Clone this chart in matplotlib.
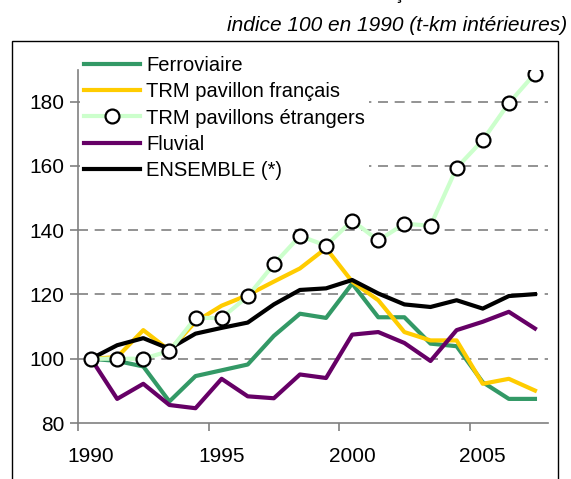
import numpy as np
import matplotlib
matplotlib.use("Agg")
import matplotlib.pyplot as plt
from matplotlib.patches import Rectangle

plt.rcParams['font.family'] = ['Liberation Sans', 'DejaVu Sans']

# indice 100 en 1990
years = list(range(1990, 2008))
ferroviaire = [100, 99.3, 97.6, 86.7, 94.6, 96.4, 98.2, 107.1, 114.0, 112.7,
               123.4, 112.9, 112.9, 104.7, 103.9, 92.7, 87.5, 87.5]
trm_fr = [100, 100.5, 108.9, 102.6, 111.5, 116.5, 119.8, 124.0, 128.1, 134.4,
          124.0, 118.2, 108.3, 105.7, 105.7, 92.2, 93.75, 90.1]
trm_etr = [100, 100, 100, 102.4, 112.7, 112.7, 119.4, 129.4, 138.2, 135.2,
           143.0, 136.8, 142.0, 141.4, 159.4, 168.0, 179.5, 188.75]
fluvial = [100, 87.5, 92.2, 85.6, 84.6, 93.75, 88.3, 87.7, 95.1, 94.0,
           107.5, 108.3, 104.9, 99.3, 108.9, 111.5, 114.6, 109.4]
ensemble = [100, 104.2, 106.4, 103.1, 107.8, 109.6, 111.25, 116.9, 121.4, 121.9,
            124.5, 120.3, 116.9, 116.1, 118.2, 115.6, 119.5, 120.1]

yticks = [80, 100, 120, 140, 160, 180]
xlabels = [1990, 1995, 2000, 2005]

fig = plt.figure(figsize=(5.71, 4.79), dpi=100)
ax = fig.add_axes([78/571, 1-423/479, (548-78)/571, (423-69.5)/479])

lw = 3
ax.plot(years, ferroviaire, color='#339966', lw=lw, label='Ferroviaire', zorder=3)
ax.plot(years, trm_fr, color='#FFCC00', lw=lw, label='TRM pavillon français', zorder=3)
ax.plot(years, trm_etr, color='#CCFFCC', lw=lw, marker='o', ms=10, mfc='white',
        mec='black', mew=1.6, label='TRM pavillons étrangers', zorder=4)
ax.plot(years, fluvial, color='#660066', lw=lw, label='Fluvial', zorder=3)
ax.plot(years, ensemble, color='black', lw=lw, label='ENSEMBLE (*)', zorder=3)

for v in yticks[1:]:
    ax.axhline(v, color='#808080', lw=1.2, ls=(0, (6, 4)), zorder=1)

ax.set_xlim(1989.5, 2007.5)
ax.set_ylim(80, 190)
ax.set_yticks(yticks)
ax.set_xticks([1989.5, 1994.5, 1999.5, 2004.5])
ax.set_xticklabels([])
ax.set_xticks(xlabels, minor=True)
ax.set_xticklabels([str(y) for y in xlabels], minor=True)
ax.tick_params(axis='x', which='minor', length=0, pad=17, labelsize=15)
ax.tick_params(axis='x', which='major', length=6, width=1.2, color='#808080')
ax.tick_params(axis='y', length=6, width=1.2, color='#808080', labelsize=15, pad=4)

for s in ['top', 'right']:
    ax.spines[s].set_visible(False)
for s in ['left', 'bottom']:
    ax.spines[s].set_color('#808080')
    ax.spines[s].set_linewidth(1.2)

leg = ax.legend(loc='upper left', bbox_to_anchor=(80/571, 1-52/479),
                bbox_transform=fig.transFigure, fontsize=14.5, frameon=True,
                facecolor='white', edgecolor='none', framealpha=1, fancybox=False,
                handlelength=2.8, handletextpad=0.3, labelspacing=0.36,
                borderpad=0.2, borderaxespad=0)
leg.set_zorder(5)

fig.text(567/571, 1-31/479, 'indice 100 en 1990 (t-km intérieures)',
         ha='right', va='baseline', style='italic', fontsize=15)
fig.text(398/571, 1+1/479, 'ç', ha='center', va='baseline', fontsize=14)

fig.patches.append(Rectangle((12/571, -0.05), (558-12)/571, 0.05+1-41/479,
                             transform=fig.transFigure, fill=False,
                             edgecolor='black', lw=1.0))

fig.savefig('out.png', dpi=100)
